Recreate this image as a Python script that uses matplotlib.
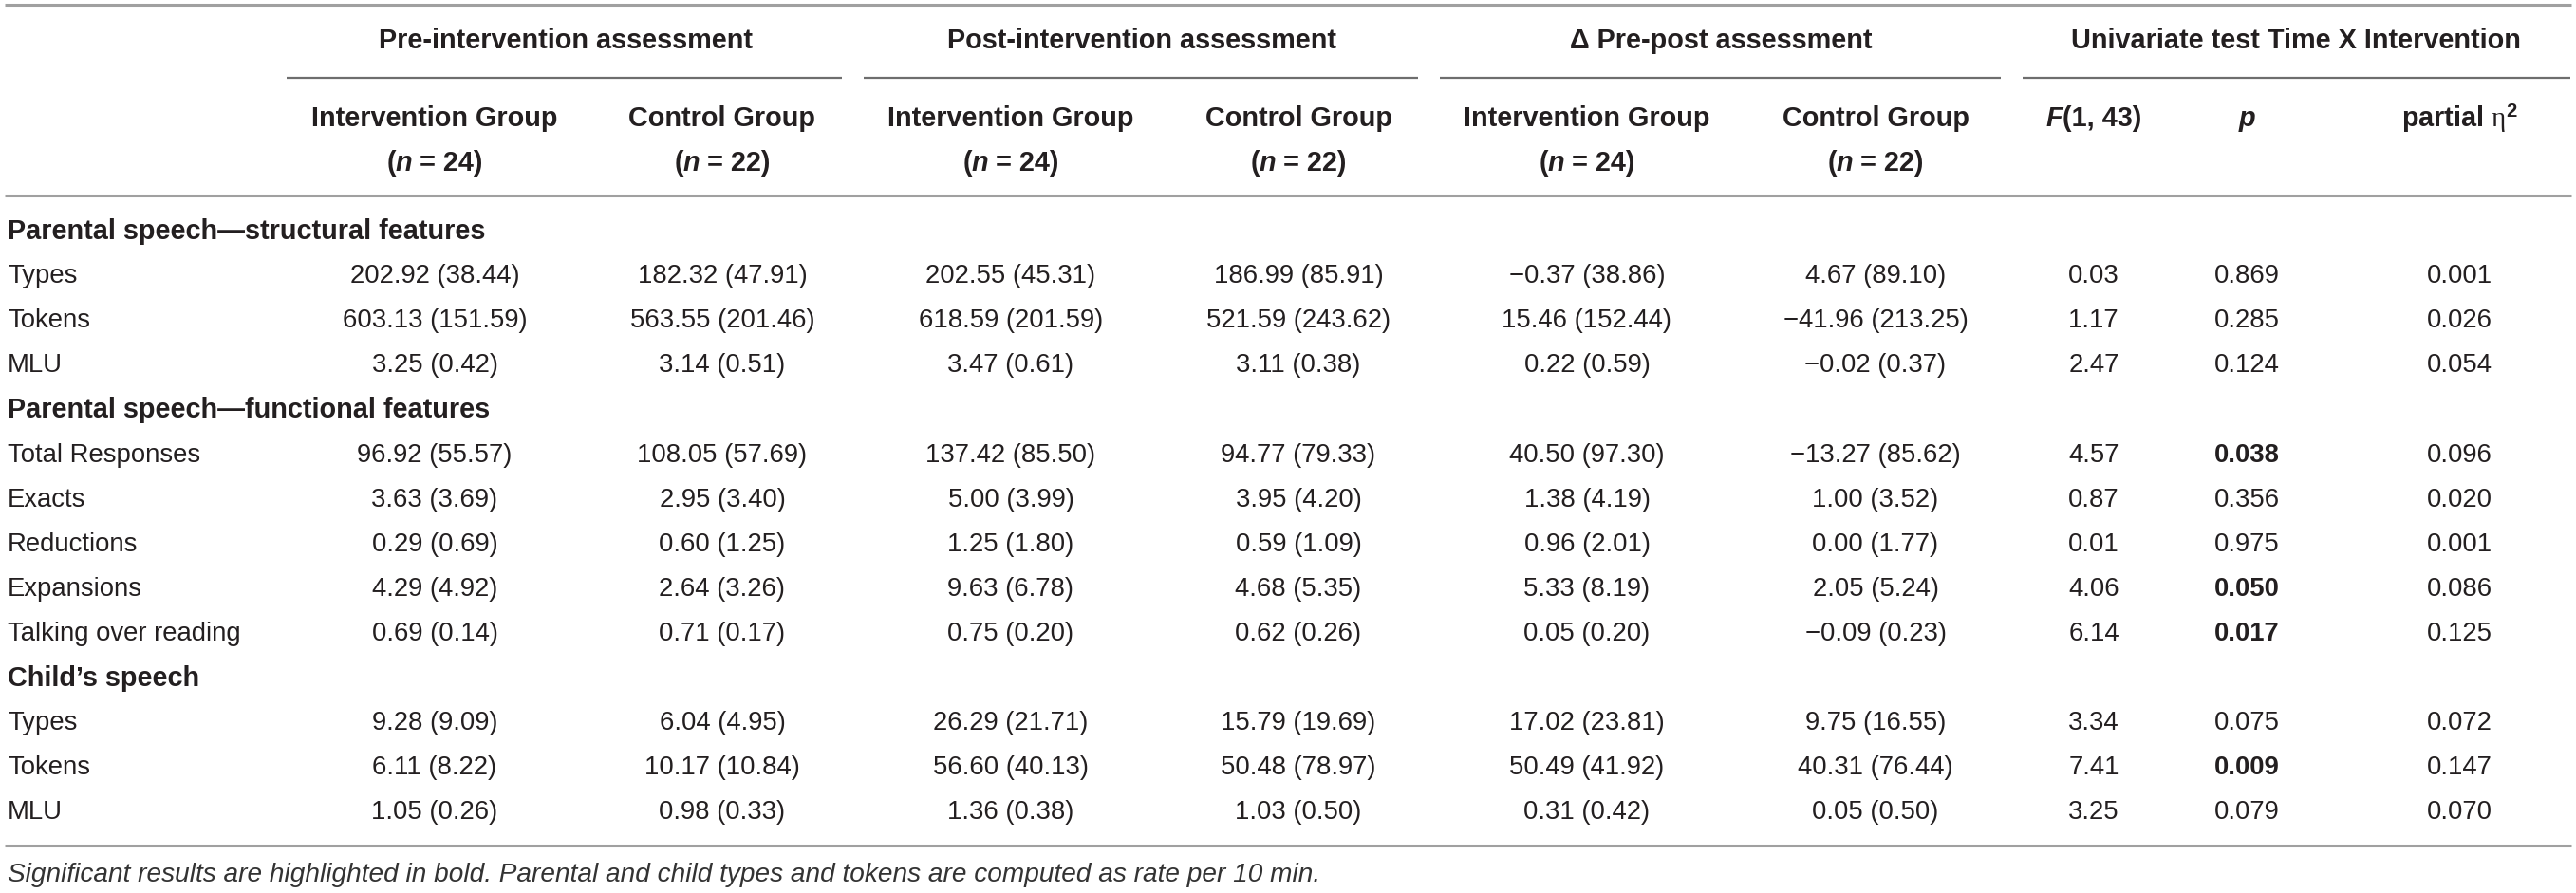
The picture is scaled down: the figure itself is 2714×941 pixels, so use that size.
import matplotlib
matplotlib.use("Agg")
from matplotlib import pyplot as plt

plt.rcParams['font.family'] = ['Liberation Sans', 'DejaVu Sans']
plt.rcParams['mathtext.fontset'] = 'custom'
plt.rcParams['mathtext.rm'] = 'Liberation Serif'
plt.rcParams['mathtext.it'] = 'Liberation Serif:italic'
plt.rcParams['mathtext.bf'] = 'Liberation Sans:bold'

# table content
spanners = ["Pre-intervention assessment", "Post-intervention assessment",
            "\u0394 Pre-post assessment", "Univariate test Time X Intervention"]
groups = ["Intervention Group", "Control Group"] * 3
group_n = ["24", "22"] * 3

sections = ["Parental speech\u2014structural features",
            "Parental speech\u2014functional features",
            "Child\u2019s speech"]
row_labels = [["Types", "Tokens", "MLU"],
              ["Total Responses", "Exacts", "Reductions", "Expansions", "Talking over reading"],
              ["Types", "Tokens", "MLU"]]

pre_int = ["202.92 (38.44)", "603.13 (151.59)", "3.25 (0.42)",
           "96.92 (55.57)", "3.63 (3.69)", "0.29 (0.69)", "4.29 (4.92)", "0.69 (0.14)",
           "9.28 (9.09)", "6.11 (8.22)", "1.05 (0.26)"]
pre_ctrl = ["182.32 (47.91)", "563.55 (201.46)", "3.14 (0.51)",
            "108.05 (57.69)", "2.95 (3.40)", "0.60 (1.25)", "2.64 (3.26)", "0.71 (0.17)",
            "6.04 (4.95)", "10.17 (10.84)", "0.98 (0.33)"]
post_int = ["202.55 (45.31)", "618.59 (201.59)", "3.47 (0.61)",
            "137.42 (85.50)", "5.00 (3.99)", "1.25 (1.80)", "9.63 (6.78)", "0.75 (0.20)",
            "26.29 (21.71)", "56.60 (40.13)", "1.36 (0.38)"]
post_ctrl = ["186.99 (85.91)", "521.59 (243.62)", "3.11 (0.38)",
             "94.77 (79.33)", "3.95 (4.20)", "0.59 (1.09)", "4.68 (5.35)", "0.62 (0.26)",
             "15.79 (19.69)", "50.48 (78.97)", "1.03 (0.50)"]
delta_int = ["\u22120.37 (38.86)", "15.46 (152.44)", "0.22 (0.59)",
             "40.50 (97.30)", "1.38 (4.19)", "0.96 (2.01)", "5.33 (8.19)", "0.05 (0.20)",
             "17.02 (23.81)", "50.49 (41.92)", "0.31 (0.42)"]
delta_ctrl = ["4.67 (89.10)", "\u221241.96 (213.25)", "\u22120.02 (0.37)",
              "\u221213.27 (85.62)", "1.00 (3.52)", "0.00 (1.77)", "2.05 (5.24)", "\u22120.09 (0.23)",
              "9.75 (16.55)", "40.31 (76.44)", "0.05 (0.50)"]
f_vals = ["0.03", "1.17", "2.47", "4.57", "0.87", "0.01", "4.06", "6.14", "3.34", "7.41", "3.25"]
p_vals = ["0.869", "0.285", "0.124", "0.038", "0.356", "0.975", "0.050", "0.017", "0.075", "0.009", "0.079"]
eta_vals = ["0.001", "0.026", "0.054", "0.096", "0.020", "0.001", "0.086", "0.125", "0.072", "0.147", "0.070"]
significant = [False, False, False, True, False, False, True, True, False, True, False]

footnote = ("Significant results are highlighted in bold. Parental and child types "
            "and tokens are computed as rate per 10 min.")

W, H = 2714, 941
TXT = "#231f20"
BODY = 19.8
HEAD = 20.8

fig = plt.figure(figsize=(W / 100, H / 100), dpi=100)
ax = fig.add_axes([0, 0, 1, 1])
ax.set_xlim(0, W)
ax.set_ylim(H, 0)
ax.axis("off")
renderer = fig.canvas.get_renderer()


def pieces(x, y, parts, size):
    # draw several styled strings side by side, centred on x
    objs = []
    for s, weight, style in parts:
        t = ax.text(0, y, s, fontsize=size, fontweight=weight, fontstyle=style,
                    color=TXT, ha="left", va="center")
        objs.append(t)
    widths = [t.get_window_extent(renderer).width for t in objs]
    cur = x - sum(widths) / 2
    for t, w in zip(objs, widths):
        t.set_x(cur)
        cur += w


col_x = [458, 761, 1065, 1368, 1672, 1976]
f_x, p_x, eta_x = 2206, 2367, 2591
span_x = [596, 1203, 1813, 2419]
span_lines = [(302, 887), (910, 1494), (1517, 2108), (2131, 2708)]

# rules
ax.plot([5, 2709], [5, 5], color="#a0a0a0", lw=2.2, solid_capstyle="butt")
ax.plot([5, 2709], [206, 206], color="#a0a0a0", lw=2.2, solid_capstyle="butt")
ax.plot([5, 2709], [891, 891], color="#a0a0a0", lw=2.2, solid_capstyle="butt")
for x0, x1 in span_lines:
    ax.plot([x0, x1], [82, 82], color="#6e6e6e", lw=1.6, solid_capstyle="butt")

# header
for x, s in zip(span_x, spanners):
    ax.text(x, 43, s, fontsize=HEAD, fontweight="bold", color=TXT, ha="center", va="center")
for x, g, n in zip(col_x, groups, group_n):
    ax.text(x, 125, g, fontsize=HEAD, fontweight="bold", color=TXT, ha="center", va="center")
    pieces(x, 172, [("(", "bold", "normal"), ("n", "bold", "italic"),
                    (" = " + n + ")", "bold", "normal")], HEAD)
pieces(f_x, 125, [("F", "bold", "italic"), ("(1, 43)", "bold", "normal")], HEAD)
ax.text(p_x, 125, "p", fontsize=HEAD, fontweight="bold", fontstyle="italic",
        color=TXT, ha="center", va="center")
ax.text(eta_x, 125, r"partial $\mathrm{\eta}^{\mathbf{2}}$", fontsize=HEAD, fontweight="bold",
        color=TXT, ha="center", va="center")

# body
row_y0, row_dy = 244, 47.1
row = 0
k = 0
for sec, labels in zip(sections, row_labels):
    ax.text(8, row_y0 + row * row_dy, sec, fontsize=HEAD, fontweight="bold",
            color=TXT, ha="left", va="center")
    row += 1
    for lab in labels:
        y = row_y0 + row * row_dy
        ax.text(8, y, lab, fontsize=BODY, color=TXT, ha="left", va="center")
        cells = [pre_int[k], pre_ctrl[k], post_int[k], post_ctrl[k], delta_int[k], delta_ctrl[k]]
        for x, c in zip(col_x, cells):
            ax.text(x, y, c, fontsize=BODY, color=TXT, ha="center", va="center")
        ax.text(f_x, y, f_vals[k], fontsize=BODY, color=TXT, ha="center", va="center")
        ax.text(p_x, y, p_vals[k], fontsize=BODY, color=TXT, ha="center", va="center",
                fontweight="bold" if significant[k] else "normal")
        ax.text(eta_x, y, eta_vals[k], fontsize=BODY, color=TXT, ha="center", va="center")
        row += 1
        k += 1

ax.text(8, 922, footnote, fontsize=20.2, fontstyle="italic", color="#333333",
        ha="left", va="center")

fig.savefig("out.png", dpi=100)
